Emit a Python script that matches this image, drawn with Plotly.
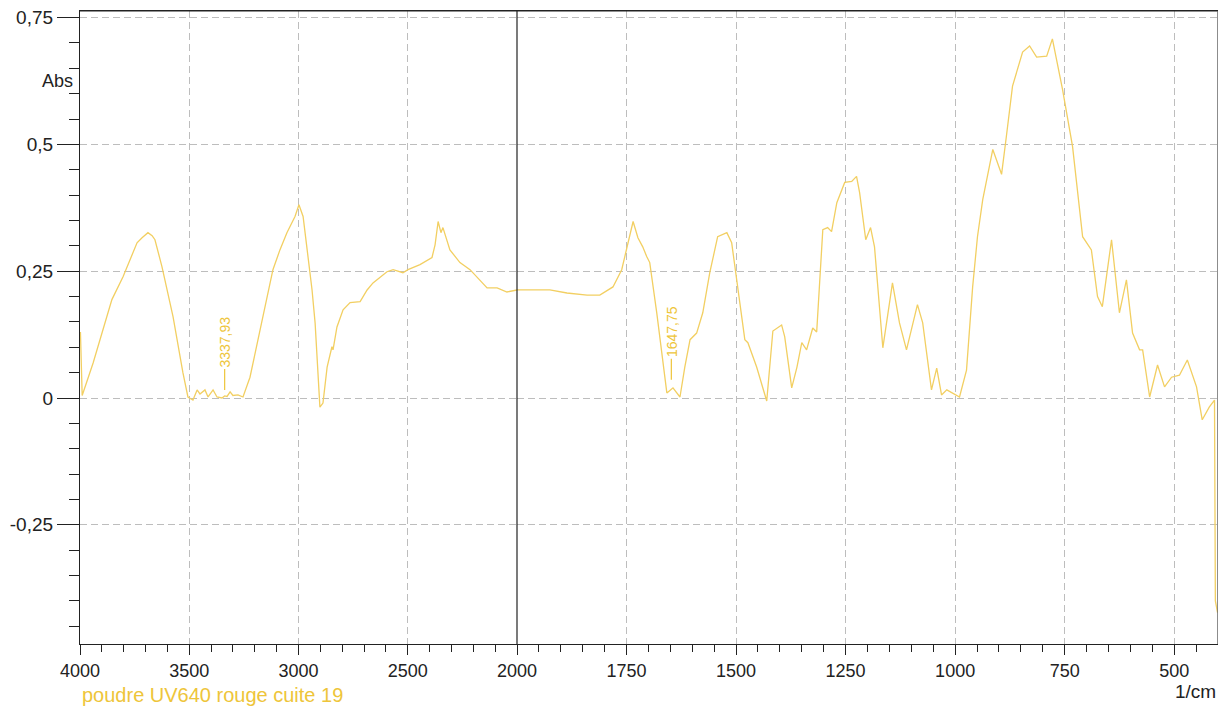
import plotly.graph_objects as go

# ---- data (wavenumber in 1/cm, absorbance) ----
wavenumber = [3998, 3990, 3940, 3854, 3803, 3739, 3716, 3689, 3670, 3657, 3625, 3574, 3529, 3506,
              3483, 3464, 3451, 3428, 3414, 3391, 3373, 3350, 3338, 3327, 3313, 3300, 3277, 3254,
              3222, 3176, 3117, 3085, 3053, 3016, 2998, 2979, 2956, 2938, 2924, 2915, 2902, 2888,
              2869, 2847, 2842, 2824, 2796, 2764, 2718, 2686, 2659, 2595, 2567, 2522, 2499, 2444,
              2389, 2375, 2361, 2348, 2339, 2307, 2261, 2215, 2169, 2137, 2091, 2046, 2000,
              1964, 1925, 1886, 1840, 1811, 1781, 1761, 1749, 1735, 1724, 1713, 1704, 1697, 1681,
              1669, 1658, 1651, 1644, 1628, 1617, 1605, 1590, 1576, 1560, 1542, 1521, 1510, 1496,
              1480, 1473, 1453, 1430, 1416, 1396, 1389, 1373, 1361, 1350, 1339, 1325, 1316, 1302,
              1291, 1282, 1270, 1252, 1236, 1225, 1218, 1204, 1193, 1184, 1165, 1143, 1127, 1111,
              1086, 1074, 1054, 1042, 1031, 1019, 990, 974, 960, 949, 937, 914, 894, 883, 869,
              846, 830, 814, 791, 778, 755, 732, 709, 689, 675, 664, 643, 625, 609, 595, 579, 572,
              556, 538, 522, 506, 488, 470, 449, 436, 420, 408, 406, 401]
absorbance = [0.13, 0.005, 0.069, 0.194, 0.239, 0.306, 0.316, 0.326, 0.32, 0.312, 0.259, 0.16, 0.05, 0.002,
              -0.004, 0.016, 0.008, 0.016, 0.002, 0.016, 0.002, 0.0, 0.004, 0.003, 0.012, 0.005, 0.006, 0.002,
              0.041, 0.134, 0.253, 0.292, 0.326, 0.358, 0.381, 0.358, 0.279, 0.213, 0.148, 0.069, -0.018, -0.01,
              0.061, 0.101, 0.095, 0.14, 0.174, 0.188, 0.19, 0.213, 0.227, 0.249, 0.253, 0.247, 0.253, 0.263,
              0.277, 0.302, 0.348, 0.326, 0.336, 0.292, 0.267, 0.253, 0.233, 0.217, 0.217, 0.209, 0.213,
              0.213, 0.213, 0.207, 0.203, 0.203, 0.219, 0.253, 0.298, 0.348, 0.316, 0.298, 0.279, 0.267, 0.168,
              0.081, 0.01, 0.015, 0.02, 0.002, 0.061, 0.115, 0.128, 0.168, 0.247, 0.318, 0.326, 0.306, 0.219,
              0.115, 0.109, 0.061, -0.006, 0.132, 0.144, 0.121, 0.02, 0.061, 0.109, 0.095, 0.138, 0.13, 0.332,
              0.336, 0.328, 0.385, 0.425, 0.427, 0.437, 0.405, 0.312, 0.336, 0.298, 0.099, 0.227, 0.148, 0.095,
              0.184, 0.148, 0.016, 0.059, 0.006, 0.016, 0.002, 0.055, 0.219, 0.318, 0.391, 0.49, 0.441, 0.516, 0.615,
              0.682, 0.694, 0.672, 0.674, 0.708, 0.609, 0.496, 0.318, 0.292, 0.2, 0.18, 0.312, 0.168, 0.233, 0.128, 0.095, 0.095,
              0.002, 0.065, 0.022, 0.041, 0.045, 0.075, 0.022, -0.043, -0.018, -0.004, -0.40, -0.423]

series_name = "poudre UV640 rouge cuite 19"

peak_wn = [3337.93, 1647.75]
peak_labels = ["3337,93", "1647,75"]
peak_abs = [0.016, 0.036]

x_left_ticks = [4000, 3500, 3000, 2500, 2000]
x_left_text = ["4000", "3500", "3000", "2500", "2000"]
x_right_ticks = [1750, 1500, 1250, 1000, 750, 500]
x_right_text = ["1750", "1500", "1250", "1000", "750", "500"]
y_ticks = [0.75, 0.5, 0.25, 0, -0.25]
y_text = ["0,75", "0,5", "0,25", "0", "-0,25"]

# ---- styling ----
LINE = "#F2CF62"
TXT_Y = "#EEC53A"
GRID = "#BDBDBD"
FONT = "Liberation Sans, Arial, sans-serif"
split = 437 / 1138

left = [(w, a) for w, a in zip(wavenumber, absorbance) if w >= 2000]
right = [(w, a) for w, a in zip(wavenumber, absorbance) if w <= 2000]

fig = go.Figure()
fig.add_trace(go.Scatter(x=[p[0] for p in left], y=[p[1] for p in left], mode="lines",
                         line=dict(color=LINE, width=1.3), name=series_name,
                         xaxis="x", yaxis="y", showlegend=False))
fig.add_trace(go.Scatter(x=[p[0] for p in right], y=[p[1] for p in right], mode="lines",
                         line=dict(color=LINE, width=1.3), name=series_name,
                         xaxis="x2", yaxis="y", showlegend=False))

xcommon = dict(showline=True, linecolor="#222", linewidth=1.2, mirror=True,
               ticks="outside", ticklen=10, tickcolor="#222", tickwidth=1.2,
               showgrid=True, gridcolor=GRID, griddash="7px,4px", gridwidth=1,
               zeroline=False, tickfont=dict(family=FONT, size=18, color="#222"),
               anchor="y", automargin=False, ticklabeloverflow="allow")

fig.update_layout(
    width=1218, height=698,
    paper_bgcolor="white", plot_bgcolor="white",
    margin=dict(l=72, r=8, t=3, b=62, autoexpand=False),
    xaxis=dict(domain=[0, split], range=[4000, 2000], tickmode="array",
               tickvals=x_left_ticks, ticktext=x_left_text,
               minor=dict(dtick=100, tick0=0, ticks="outside", ticklen=7, tickcolor="#222", tickwidth=1.2),
               **xcommon),
    xaxis2=dict(domain=[split, 1], range=[2000, 400], tickmode="array",
                tickvals=x_right_ticks, ticktext=x_right_text,
                minor=dict(dtick=50, tick0=0, ticks="outside", ticklen=7, tickcolor="#222", tickwidth=1.2),
                **xcommon),
    yaxis=dict(range=[-0.485, 0.763], tickmode="array", tickvals=y_ticks, ticktext=y_text,
               showline=True, linecolor="#222", linewidth=1.2,
               ticks="outside", ticklen=22, tickcolor="#222", tickwidth=1.2,
               minor=dict(dtick=0.05, tick0=0, ticks="outside", ticklen=10, tickcolor="#222", tickwidth=1.2),
               showgrid=True, gridcolor=GRID, griddash="7px,4px", gridwidth=1,
               zeroline=False, automargin=False, ticklabeloverflow="allow",
               tickfont=dict(family=FONT, size=19, color="#222")),
    shapes=[
        dict(type="line", xref="paper", yref="paper", x0=0, x1=1, y0=1, y1=1,
             line=dict(color="#222", width=1.2)),
        dict(type="line", xref="paper", yref="paper", x0=split, x1=split, y0=0, y1=1,
             line=dict(color="#222", width=1.2)),
        dict(type="line", xref="paper", yref="paper", x0=1, x1=1, y0=0, y1=1,
             line=dict(color="#666", width=1.5)),
    ],
)

annotations = [
    dict(text="Abs", xref="paper", yref="y", x=-0.035, y=0.625, showarrow=False,
         font=dict(family=FONT, size=18, color="#222")),
    dict(text="1/cm", xref="paper", yref="paper", x=1.0, y=-0.075, xanchor="right", yanchor="middle",
         showarrow=False, font=dict(family=FONT, size=19, color="#222")),
    dict(text=series_name, xref="paper", yref="paper", x=0.0, y=-0.08, xanchor="left", yanchor="middle",
         showarrow=False, font=dict(family=FONT, size=20, color=TXT_Y)),
]
for wn, lab, ab in zip(peak_wn, peak_labels, peak_abs):
    ax_name = "x" if wn >= 2000 else "x2"
    annotations.append(dict(text=lab, xref=ax_name, yref="y", x=wn, y=ab, textangle=-90,
                            showarrow=True, arrowhead=0, arrowwidth=1.2, arrowcolor=TXT_Y,
                            ax=0, ay=-48, font=dict(family=FONT, size=14, color=TXT_Y)))
fig.update_layout(annotations=annotations)

fig.write_html("out.html")
